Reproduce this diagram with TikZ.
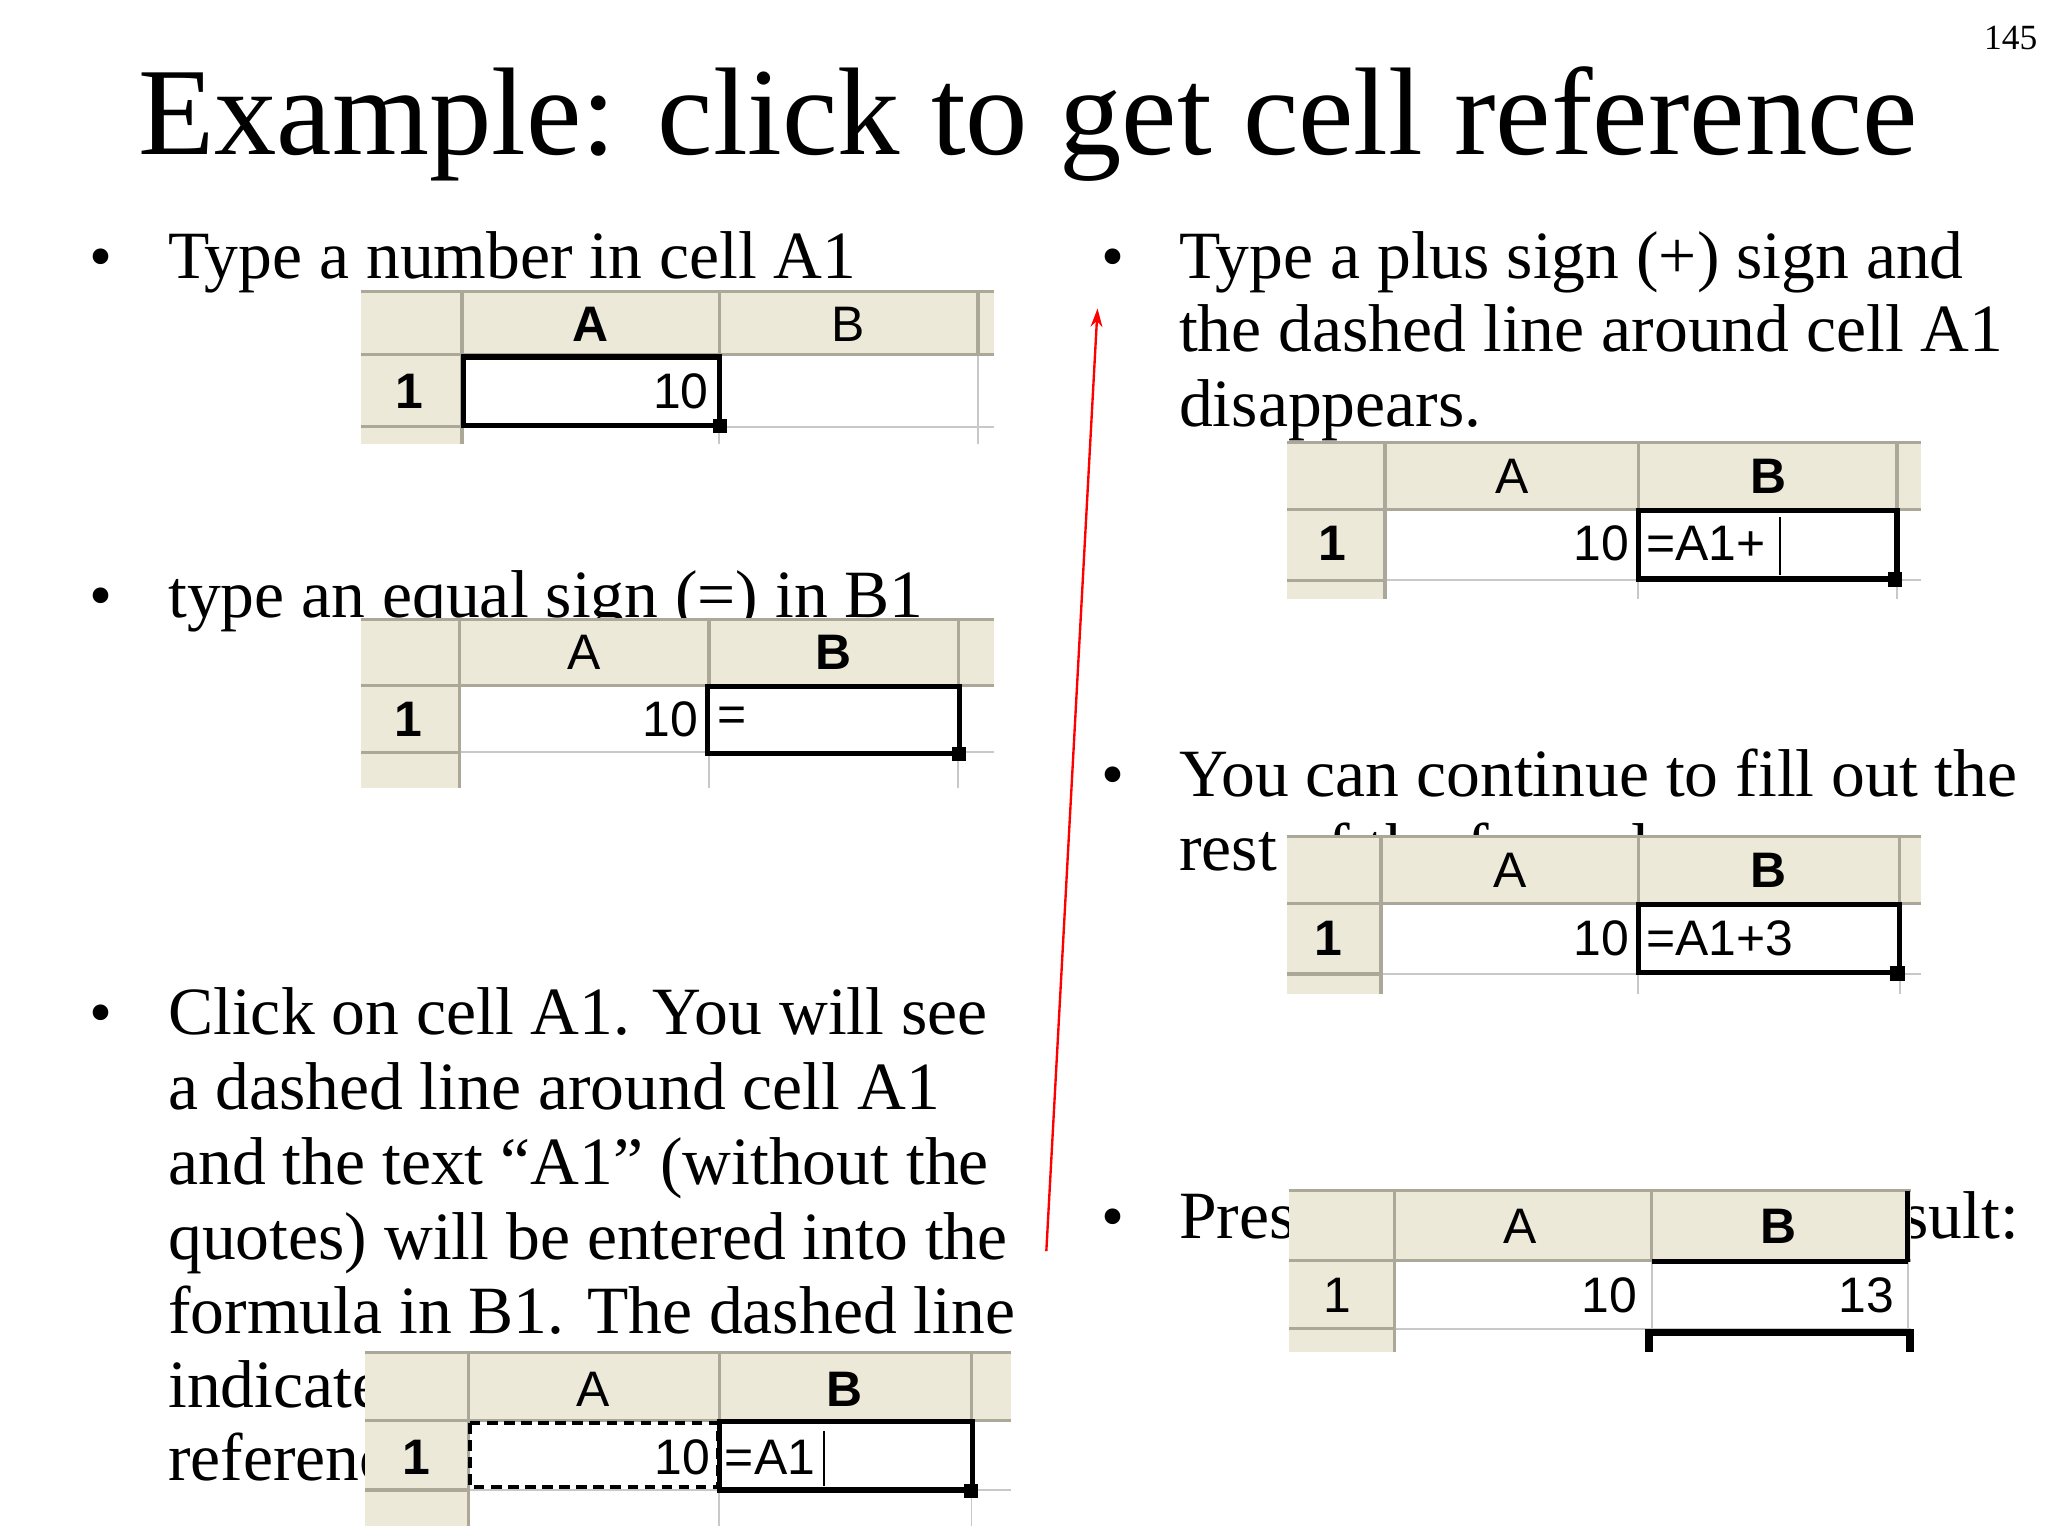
\documentclass[tikz,border=0pt]{standalone}
\usepackage{fontspec}
\setmainfont{Liberation Serif}
\newfontfamily\cellfont{Liberation Sans}
\usetikzlibrary{arrows.meta}
\definecolor{hdr}{RGB}{236,233,216}
\definecolor{hdrline}{RGB}{172,168,153}
\definecolor{gridc}{RGB}{200,200,200}
\tikzset{
 body/.style={font=\fontsize{51.5}{57}\selectfont,anchor=base west,inner sep=0},
 bul/.style={font=\fontsize{50}{57}\selectfont,anchor=base,inner sep=0},
 cell/.style={font=\cellfont\fontsize{38}{38}\selectfont,inner sep=0},
 bcell/.style={font=\cellfont\bfseries\fontsize{38}{38}\selectfont,inner sep=0},
 sel/.style={line width=4pt,black},
}
% x0 xa xb xc xend y0 yh yr yend
\newcommand\mysheet[9]{%
 \fill[white] (#1,#6) rectangle (#5,#9);
 \fill[hdr] (#1,#6) rectangle (#5,#7);
 \fill[hdr] (#1,#6) rectangle (#2,#9);
 \draw[gridc,line width=1.5pt] (#2,#8) -- (#5,#8) (#3,#7) -- (#3,#9) (#4,#7) -- (#4,#9);
 \draw[hdrline,line width=2.5pt] (#1,#6) -- (#5,#6) (#1,#7) -- (#5,#7) (#2,#6) -- (#2,#9) (#3,#6) -- (#3,#7) (#4,#6) -- (#4,#7) (#1,#8) -- (#2,#8);
}
\begin{document}
\begin{tikzpicture}[x=1pt,y=-1pt]
\useasboundingbox (0,0) rectangle (1560,1170);
\fill[white] (0,0) rectangle (1560,1170);
\node[font=\fontsize{95}{97}\selectfont,anchor=base,inner sep=0] (title) at (783,118) {Example: click to get cell reference};
\node[font=\fontsize{27}{30}\selectfont,anchor=base east,inner sep=0] (pg) at (1552,38) {145};
% left column
\node[bul] (b1) at (77,212) {•};
\node[body] (t1) at (128,212) {Type a number in cell A1};
\node[bul] (b2) at (77,470) {•};
\node[body] (t2) at (128,470) {type an equal sign (=) in B1};
\node[bul] (b3) at (77,788) {•};
\node[body] (t3a) at (128,788) {Click on cell A1. You will see};
\node[body] (t3b) at (128,845) {a dashed line around cell A1};
\node[body] (t3c) at (128,902) {and the text “A1” (without the};
\node[body] (t3d) at (128,959) {quotes) will be entered into the};
\node[body] (t3e) at (128,1016) {formula in B1. The dashed line};
\node[body] (t3f) at (128,1072) {indicates that A1 is a cell};
\node[body] (t3g) at (128,1128) {reference.};
% right column
\node[bul] (b4) at (848,212) {•};
\node[body] (t4a) at (898,212) {Type a plus sign (+) sign and};
\node[body] (t4b) at (898,268) {the dashed line around cell A1};
\node[body] (t4c) at (898,325) {disappears.};
\node[bul] (b5) at (848,607) {•};
\node[body] (t5a) at (898,607) {You can continue to fill out the};
\node[body] (t5b) at (898,663) {rest of the formula.};
\node[bul] (b6) at (848,943) {•};
\node[body] (t6a) at (898,943) {Press Enter to};
\node[body,anchor=base east] (t6b) at (1538,943) {see the result:};
% sheet 1
\mysheet{275}{352}{548}{745}{757}{222}{270}{325}{338}
\node[bcell] (s1A) at (450,247) {A};
\node[cell] (s1B) at (646,247) {B};
\node[bcell] (s1r) at (312,298) {1};
\node[cell,anchor=east] (s1v) at (540,298) {10};
\draw[sel] (353,272) rectangle (548,324);
\fill (543,319) rectangle (554,330);
% sheet 2
\mysheet{275}{350}{540}{730}{757}{472}{522}{573}{600}
\node[cell] (s2A) at (445,497) {A};
\node[bcell] (s2B) at (635,497) {B};
\node[bcell] (s2r) at (311,548) {1};
\node[cell,anchor=east] (s2v) at (532,548) {10};
\node[cell,anchor=west] (s2f) at (546,548) {=};
\draw[sel] (539,523) rectangle (731,574);
\fill (725,569) rectangle (736,580);
% sheet 3
\mysheet{278}{357}{548}{740}{770}{1030}{1082}{1135}{1162}
\node[cell] (s3A) at (452,1058) {A};
\node[bcell] (s3B) at (643,1058) {B};
\node[bcell] (s3r) at (317,1110) {1};
\node[cell,anchor=east] (s3v) at (541,1110) {10};
\node[cell,anchor=west] (s3f) at (552,1110) {=A1};
\draw[line width=1.5pt] (628,1090) -- (628,1132);
\draw[line width=3pt,dash pattern=on 8pt off 5pt] (358,1084) rectangle (547,1133);
\draw[sel] (548,1083) rectangle (741,1135);
\fill (734,1130) rectangle (745,1141);
% sheet 4
\mysheet{980}{1055}{1248}{1445}{1463}{337}{388}{442}{456}
\node[cell] (s4A) at (1152,363) {A};
\node[bcell] (s4B) at (1347,363) {B};
\node[bcell] (s4r) at (1015,414) {1};
\node[cell,anchor=east] (s4v) at (1241,414) {10};
\node[cell,anchor=west] (s4f) at (1254,414) {=A1+};
\draw[line width=1.5pt] (1356,394) -- (1356,438);
\draw[sel] (1248,389) rectangle (1445,441);
\fill (1438,436) rectangle (1449,447);
% sheet 5
\mysheet{980}{1052}{1248}{1447}{1463}{637}{688}{742}{757}
\node[cell] (s5A) at (1150,663) {A};
\node[bcell] (s5B) at (1347,663) {B};
\node[bcell] (s5r) at (1012,715) {1};
\node[cell,anchor=east] (s5v) at (1241,715) {10};
\node[cell,anchor=west] (s5f) at (1254,715) {=A1+3};
\draw[sel] (1248,689) rectangle (1447,741);
\fill (1440,736) rectangle (1451,747);
% sheet 6
\mysheet{982}{1062}{1258}{1453}{1456}{907}{960}{1012}{1030}
\node[cell] (s6A) at (1158,934) {A};
\node[bcell] (s6B) at (1355,934) {B};
\node[cell] (s6r) at (1019,987) {1};
\node[cell,anchor=east] (s6v) at (1247,987) {10};
\node[cell,anchor=east] (s6w) at (1443,987) {13};
\draw[line width=4pt] (1258,961) -- (1453,961) (1453,907) -- (1453,961);
\draw[line width=6pt] (1256,1030) -- (1256,1015) -- (1455,1015) -- (1455,1030);
% red arrow
\coordinate (ra) at (797,953);
\coordinate (rb) at (836,235);
\draw[red,line width=1.8pt,-{Stealth[length=14pt,width=9pt]}] (ra) -- (rb);
\end{tikzpicture}
\end{document}
